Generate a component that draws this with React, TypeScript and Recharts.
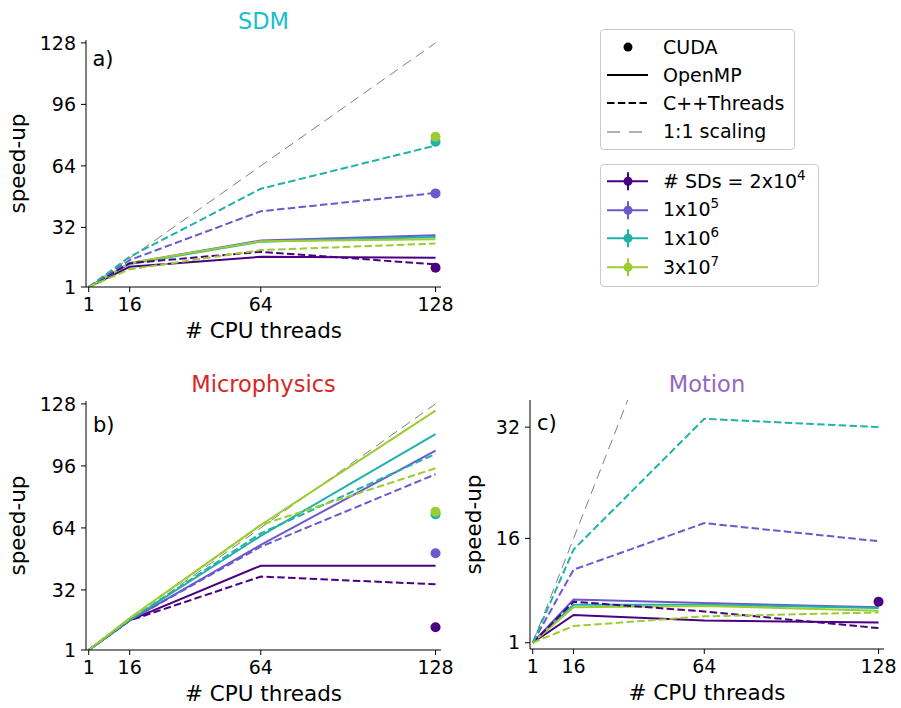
import { ComposedChart, Line, XAxis, YAxis, Label } from "recharts";

const THREADS = [1, 16, 64, 128];
const SIZE_COLORS = ["#4b0082", "#6a5acd", "#20b2aa", "#9acd32"];
const SIZE_LABELS = [
  ["# SDs = 2x10", "4"],
  ["1x10", "5"],
  ["1x10", "6"],
  ["3x10", "7"],
];

// a) SDM
const SDM_OPENMP = [
  [1, 11.5, 16.7, 16.2],
  [1, 13.4, 25.2, 27.9],
  [1, 13.0, 24.6, 27.0],
  [1, 13.5, 24.8, 25.9],
];
const SDM_THREADS = [
  [1, 13.4, 19.3, 12.8],
  [1, 15.0, 40.4, 49.9],
  [1, 16.7, 52.1, 74.6],
  [1, 10.2, 20.2, 23.6],
];
const SDM_CUDA = [11.0, 49.7, 76.6, 79.2];

// b) Microphysics
const MICRO_OPENMP = [
  [1, 16.3, 44.5, 44.5],
  [1, 16.3, 55.2, 103.9],
  [1, 16.5, 59.9, 112.4],
  [1, 17.5, 65.5, 124.5],
];
const MICRO_THREADS = [
  [1, 16.2, 38.9, 34.9],
  [1, 16.3, 54.3, 91.7],
  [1, 16.5, 61.2, 102.2],
  [1, 17.2, 65.5, 94.8],
];
const MICRO_CUDA = [12.7, 50.9, 71.0, 72.4];

// c) Motion
const MOTION_OPENMP = [
  [1, 5.0, 4.2, 3.9],
  [1, 7.2, 6.7, 6.1],
  [1, 6.45, 6.45, 6.0],
  [1, 6.1, 6.3, 5.6],
];
const MOTION_THREADS = [
  [1, 6.9, 5.5, 3.1],
  [1, 11.5, 18.2, 15.6],
  [1, 14.4, 33.2, 32.0],
  [1, 3.4, 4.8, 5.35],
];
const MOTION_CUDA = [6.9, null, null, null];

const AB_TICKS = [1, 32, 64, 96, 128];
const C_TICKS = [1, 16, 32];

interface PanelProps {
  left: number;
  top: number;
  width: number;
  height: number;
  marginRight: number;
  omp: number[][];
  thr: number[][];
  cuda: (number | null)[];
  yDomain: [number, number];
  yTicks: number[];
  yLabelOffset: number;
}

function Panel({
  left,
  top,
  width,
  height,
  marginRight,
  omp,
  thr,
  cuda,
  yDomain,
  yTicks,
  yLabelOffset,
}: PanelProps) {
  const rows = THREADS.map((t, i) => {
    const row: Record<string, number | null> = { t, ideal: t };
    omp.forEach((s, k) => (row[`omp${k}`] = s[i]));
    thr.forEach((s, k) => (row[`thr${k}`] = s[i]));
    cuda.forEach((v, k) => (row[`cuda${k}`] = t === 128 ? v : null));
    return row;
  });

  return (
    <div style={{ position: "absolute", left, top }}>
      <ComposedChart
        width={width}
        height={height}
        data={rows}
        margin={{ top: 40, right: marginRight, left: 0, bottom: 0 }}
      >
        <XAxis
          dataKey="t"
          type="number"
          domain={[0, 130]}
          ticks={THREADS}
          allowDataOverflow
          height={63}
          tickSize={5}
          tickMargin={6}
          stroke="#000"
          tick={{ fill: "#000", fontSize: 19 }}
        >
          <Label
            value="# CPU threads"
            position="insideBottom"
            offset={12}
            style={{ fontSize: 21.5, fill: "#000" }}
          />
        </XAxis>
        <YAxis
          type="number"
          domain={yDomain}
          ticks={yTicks}
          allowDataOverflow
          width={86}
          tickSize={5}
          tickMargin={5}
          stroke="#000"
          tick={{ fill: "#000", fontSize: 19 }}
        >
          <Label
            value="speed-up"
            angle={-90}
            position="insideLeft"
            offset={yLabelOffset}
            style={{ fontSize: 21.5, fill: "#000", textAnchor: "middle" }}
          />
        </YAxis>
        <Line
          dataKey="ideal"
          stroke="#7f7f7f"
          strokeWidth={1}
          strokeDasharray="10 6"
          dot={false}
          isAnimationActive={false}
        />
        {SIZE_COLORS.map((c, k) => (
          <Line
            key={`omp${k}`}
            dataKey={`omp${k}`}
            stroke={c}
            strokeWidth={2}
            dot={false}
            isAnimationActive={false}
          />
        ))}
        {SIZE_COLORS.map((c, k) => (
          <Line
            key={`thr${k}`}
            dataKey={`thr${k}`}
            stroke={c}
            strokeWidth={2}
            strokeDasharray="7.5 3.3"
            dot={false}
            isAnimationActive={false}
          />
        ))}
        {SIZE_COLORS.map((c, k) => (
          <Line
            key={`cuda${k}`}
            dataKey={`cuda${k}`}
            stroke="none"
            dot={{ r: 5, fill: c, stroke: "none" }}
            isAnimationActive={false}
          />
        ))}
      </ComposedChart>
    </div>
  );
}

function Text({
  x,
  top,
  children,
  color = "#000",
  size = 21,
  center = false,
}: {
  x: number;
  top: number;
  children: React.ReactNode;
  color?: string;
  size?: number;
  center?: boolean;
}) {
  return (
    <div
      style={{
        position: "absolute",
        left: center ? x - 150 : x,
        width: center ? 300 : undefined,
        top,
        textAlign: center ? "center" : "left",
        fontSize: size,
        lineHeight: 1,
        color,
        whiteSpace: "nowrap",
      }}
    >
      {children}
    </div>
  );
}

function LegendRow({
  handle,
  rowHeight,
  children,
}: {
  handle: React.ReactNode;
  rowHeight: number;
  children: React.ReactNode;
}) {
  return (
    <div style={{ display: "flex", alignItems: "center", height: rowHeight }}>
      <svg width={62} height={rowHeight} style={{ flex: "none" }}>
        <g transform={`translate(0, ${rowHeight / 2})`}>{handle}</g>
      </svg>
      <span style={{ fontSize: 19, lineHeight: 1 }}>{children}</span>
    </div>
  );
}

const boxStyle: React.CSSProperties = {
  position: "absolute",
  left: 600,
  border: "1px solid #cccccc",
  borderRadius: 4,
  boxSizing: "border-box",
  background: "#fff",
};

export default function App() {
  return (
    <div
      style={{
        position: "absolute",
        left: 0,
        top: 0,
        width: 901,
        height: 708,
        background: "#fff",
        fontFamily: "'DejaVu Sans', sans-serif",
        overflow: "hidden",
      }}
    >
      <Panel
        left={0}
        top={0}
        width={460}
        height={350}
        marginRight={19}
        omp={SDM_OPENMP}
        thr={SDM_THREADS}
        cuda={SDM_CUDA}
        yDomain={[1, 129.5]}
        yTicks={AB_TICKS}
        yLabelOffset={17.5}
      />
      <Panel
        left={0}
        top={361}
        width={460}
        height={352}
        marginRight={19}
        omp={MICRO_OPENMP}
        thr={MICRO_THREADS}
        cuda={MICRO_CUDA}
        yDomain={[1, 129.5]}
        yTicks={AB_TICKS}
        yLabelOffset={17.5}
      />
      <Panel
        left={444}
        top={360}
        width={457}
        height={352}
        marginRight={17}
        omp={MOTION_OPENMP}
        thr={MOTION_THREADS}
        cuda={MOTION_CUDA}
        yDomain={[0.1, 35.9]}
        yTicks={C_TICKS}
        yLabelOffset={29.5}
      />

      <Text x={263.5} top={10} color="#17becf" size={22.5} center>
        SDM
      </Text>
      <Text x={263.5} top={372.7} color="#d62728" size={22.5} center>
        Microphysics
      </Text>
      <Text x={707} top={372.7} color="#9467bd" size={22.5} center>
        Motion
      </Text>

      <Text x={92.5} top={49}>a)</Text>
      <Text x={93} top={415}>b)</Text>
      <Text x={537} top={413}>c)</Text>

      <div style={{ ...boxStyle, top: 29, width: 195, height: 121, paddingTop: 3 }}>
        <LegendRow rowHeight={28.2} handle={<circle cx={27} cy={0} r={4.5} fill="#000" />}>
          CUDA
        </LegendRow>
        <LegendRow
          rowHeight={28.2}
          handle={<line x1={6} x2={47} y1={0} y2={0} stroke="#000" strokeWidth={2} />}
        >
          OpenMP
        </LegendRow>
        <LegendRow
          rowHeight={28.2}
          handle={
            <line
              x1={6}
              x2={47}
              y1={0}
              y2={0}
              stroke="#000"
              strokeWidth={2}
              strokeDasharray="7.5 3.3"
            />
          }
        >
          C++Threads
        </LegendRow>
        <LegendRow
          rowHeight={28.2}
          handle={
            <line
              x1={6}
              x2={47}
              y1={0}
              y2={0}
              stroke="#b0b0b0"
              strokeWidth={2}
              strokeDasharray="13 9"
            />
          }
        >
          1:1 scaling
        </LegendRow>
      </div>

      <div style={{ ...boxStyle, top: 164, width: 219, height: 123, paddingTop: 2 }}>
        {SIZE_LABELS.map(([base, exp], k) => (
          <LegendRow
            key={base + exp}
            rowHeight={28.6}
            handle={
              <g>
                <line x1={6} x2={47} y1={0} y2={0} stroke={SIZE_COLORS[k]} strokeWidth={2} />
                <line x1={27} x2={27} y1={-9} y2={9} stroke={SIZE_COLORS[k]} strokeWidth={2} />
                <circle cx={27} cy={0} r={4.5} fill={SIZE_COLORS[k]} />
              </g>
            }
          >
            {base}
            <span style={{ fontSize: 13.5, position: "relative", top: -8 }}>{exp}</span>
          </LegendRow>
        ))}
      </div>
    </div>
  );
}
